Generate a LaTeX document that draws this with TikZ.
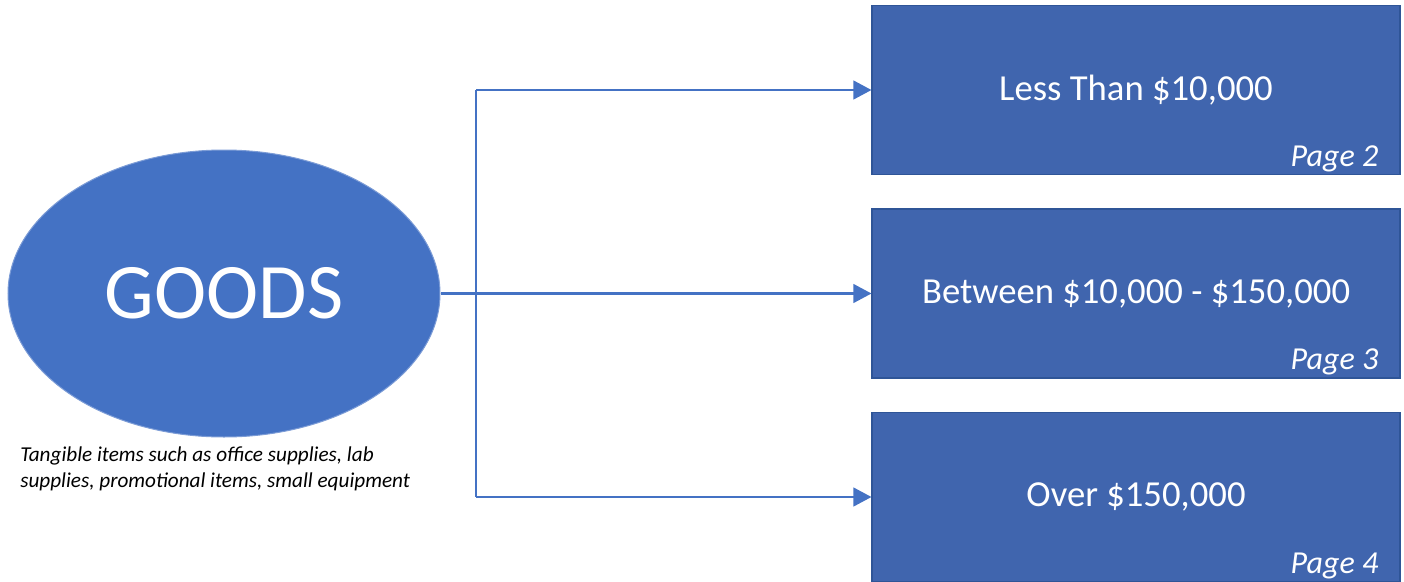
\documentclass[tikz,border=0pt]{standalone}
\usepackage{fontspec}
\setmainfont{Carlito}
\usepackage{tikz}
\usetikzlibrary{positioning,shapes,arrows.meta,calc}

\definecolor{goodsblue}{HTML}{4472C4}
\definecolor{boxblue}{HTML}{4065AE}
\definecolor{boxedge}{HTML}{2F5597}

\begin{document}
\begin{tikzpicture}[x=0.75pt,y=-0.75pt,
  bucket/.style={rectangle,fill=boxblue,draw=boxedge,line width=0.8pt,
    minimum width=528*0.75pt,minimum height=169*0.75pt,inner sep=0,
    text=white,font=\fontsize{27.5}{32}\selectfont},
  pagetag/.style={anchor=base east,inner sep=0,text=white,
    font=\fontsize{24}{28}\selectfont\itshape},
  link/.style={draw=goodsblue,line width=1.6pt},
  arr/.style={link,-{Triangle[length=13.5pt,width=14pt]}}]
  \def\bx{1136} % x of the box centres
  \useasboundingbox (0,0) rectangle (1404,582);
  % the goods ellipse and its note
  \node[ellipse,fill=goodsblue,draw=goodsblue!70!white,line width=0.75pt,
    minimum width=432*0.75pt,minimum height=287*0.75pt,inner sep=0,
    text=white,font=\fontsize{59}{64}\selectfont] (goods) at (224,293.5) {GOODS};
  \node[anchor=north west,inner sep=0,align=left,
    font=\fontsize{15.9}{19.5}\selectfont\itshape] (note) at (20,446.5)
    {Tangible items such as office supplies, lab\\supplies, promotional items, small equipment};
  % the three price bands
  \foreach \name/\y/\txt/\pg in {less/90/{Less Than \$10,000}/2,
      between/293.5/{Between \$10,000 - \$150,000}/3,
      over/497/{Over \$150,000}/4} {
    \node[bucket] (\name) at (\bx,\y) {\txt};
    \node[pagetag] (\name page) at ([shift={(-22,-9)}]\name.south east) {Page \pg};
  }
  % connectors
  \coordinate (split) at (476,293.5);
  \draw[link] (goods.east) -- (goods.east -| split);
  \draw[link] (split |- less.west) -- (split |- over.west);
  \foreach \name in {less,between,over}
    \draw[arr] (split |- \name.west) -- (\name.west);
\end{tikzpicture}
\end{document}
